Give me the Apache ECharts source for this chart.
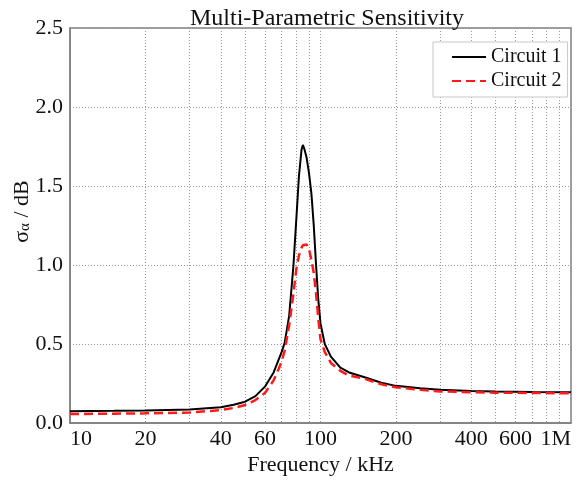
<!DOCTYPE html>
<html>
<head>
<meta charset="utf-8">
<title>Multi-Parametric Sensitivity</title>
<script src="https://cdn.jsdelivr.net/npm/echarts@6.0.0/dist/echarts.min.js"></script>
<style>
  html, body { margin: 0; padding: 0; background: #ffffff; }
  #chart { width: 579px; height: 481px; }
</style>
</head>
<body>
<div id="chart"></div>
<script>
// Frequency sweep (kHz) and the sensitivity of each circuit (dB)
const freqKHz = [10, 15, 20, 30, 40, 45, 50, 55, 60, 65, 68, 70, 72, 75, 78, 80, 82, 84, 85, 86, 88, 90, 92, 94, 96, 98, 100, 104, 110, 120, 130, 150, 175, 200, 250, 300, 400, 500, 700, 1000];
const circuit1 = [0.075, 0.077, 0.079, 0.085, 0.100, 0.115, 0.135, 0.170, 0.230, 0.320, 0.400, 0.450, 0.510, 0.680, 1.000, 1.280, 1.560, 1.730, 1.760, 1.740, 1.680, 1.580, 1.450, 1.250, 1.000, 0.780, 0.630, 0.500, 0.420, 0.350, 0.320, 0.290, 0.255, 0.235, 0.220, 0.210, 0.203, 0.199, 0.196, 0.194];
const circuit2 = [0.057, 0.059, 0.061, 0.066, 0.082, 0.095, 0.114, 0.145, 0.190, 0.270, 0.340, 0.390, 0.460, 0.620, 0.820, 0.970, 1.060, 1.110, 1.125, 1.130, 1.130, 1.100, 1.030, 0.950, 0.820, 0.660, 0.530, 0.450, 0.380, 0.330, 0.300, 0.280, 0.245, 0.226, 0.210, 0.200, 0.195, 0.192, 0.190, 0.188];

// Axis ticks
const xGridValues = [10, 20, 30, 40, 50, 60, 70, 80, 90, 100, 200, 300, 400, 500, 600, 700, 800, 900, 1000];
const xLabelValues = [10, 20, 40, 60, 100, 200, 400, 600, 1000];
const yMin = 0, yMax = 2.5, yStep = 0.5;

const serif = '"Liberation Serif", "DejaVu Serif", "Times New Roman", serif';
const frameColor = '#7f7f7f';
const gridStyle = { color: '#999999', width: 1, type: [1, 2] };

const chart = echarts.init(document.getElementById('chart'), null, { renderer: 'canvas' });

chart.setOption({
  animation: false,
  backgroundColor: '#ffffff',
  title: {
    text: 'Multi-Parametric Sensitivity',
    left: 322,
    textAlign: 'center',
    top: 2,
    textStyle: { fontFamily: serif, fontSize: 24, fontWeight: 'normal', color: '#111' }
  },
  grid: {
    left: 70, right: 8, top: 28, bottom: 58,
    outerBoundsMode: 'none',
    containLabel: false,
    show: true, borderColor: frameColor, borderWidth: 1.5, backgroundColor: 'transparent'
  },
  legend: {
    orient: 'vertical',
    left: 433, top: 42,
    padding: [5, 6, 6, 18],
    itemGap: 4,
    itemWidth: 34, itemHeight: 14,
    itemStyle: { opacity: 0 },
    backgroundColor: '#ffffff',
    borderColor: '#c8c8c8', borderWidth: 1,
    textStyle: { fontFamily: serif, fontSize: 20, color: '#111', lineHeight: 20 },
    data: ['Circuit 1', 'Circuit 2']
  },
  xAxis: {
    type: 'log', logBase: 10, min: 10, max: 1000,
    name: 'Frequency / kHz', nameLocation: 'middle', nameGap: 31,
    nameMoveOverlap: false,
    nameTextStyle: { fontFamily: serif, fontSize: 22, color: '#111' },
    axisLine: { show: true, lineStyle: { color: frameColor, width: 1.5 } },
    axisTick: { show: false, customValues: xGridValues },
    axisLabel: {
      customValues: xLabelValues,
      fontFamily: serif, fontSize: 22, color: '#111', margin: 5,
      alignMinLabel: 'left', alignMaxLabel: 'right',
      hideOverlap: false,
      formatter: v => (v === 1000 ? '1M' : String(v))
    },
    splitLine: { show: true, lineStyle: gridStyle },
    minorSplitLine: { show: false }
  },
  yAxis: {
    type: 'value', min: yMin, max: yMax, interval: yStep,
    name: '{s|σ}{sub|α}{s| / dB}', nameLocation: 'middle', nameGap: 37,
    nameMoveOverlap: false,
    nameTextStyle: {
      padding: [0, 0, 0, 28],
      rich: {
        s: { fontFamily: serif, fontSize: 22, color: '#111', lineHeight: 26, verticalAlign: 'bottom' },
        sub: { fontFamily: serif, fontSize: 15, color: '#111', lineHeight: 26, verticalAlign: 'bottom', padding: [6, 0, 0, 0] }
      }
    },
    axisLine: { show: true, lineStyle: { color: frameColor, width: 1.5 } },
    axisTick: { show: false },
    axisLabel: {
      fontFamily: serif, fontSize: 22, color: '#111', margin: 7,
      formatter: v => v.toFixed(1)
    },
    splitLine: { show: true, lineStyle: gridStyle }
  },
  series: [
    {
      name: 'Circuit 1', type: 'line', symbol: 'none', smooth: false,
      lineStyle: { color: '#000000', width: 2 },
      itemStyle: { color: '#000000' },
      data: freqKHz.map((f, i) => [f, circuit1[i]]),
      z: 3
    },
    {
      name: 'Circuit 2', type: 'line', symbol: 'none', smooth: false,
      lineStyle: { color: '#ff1a1a', width: 2.5, type: [9, 5] },
      itemStyle: { color: '#ff1a1a' },
      data: freqKHz.map((f, i) => [f, circuit2[i]]),
      z: 4
    }
  ]
});
</script>
</body>
</html>
